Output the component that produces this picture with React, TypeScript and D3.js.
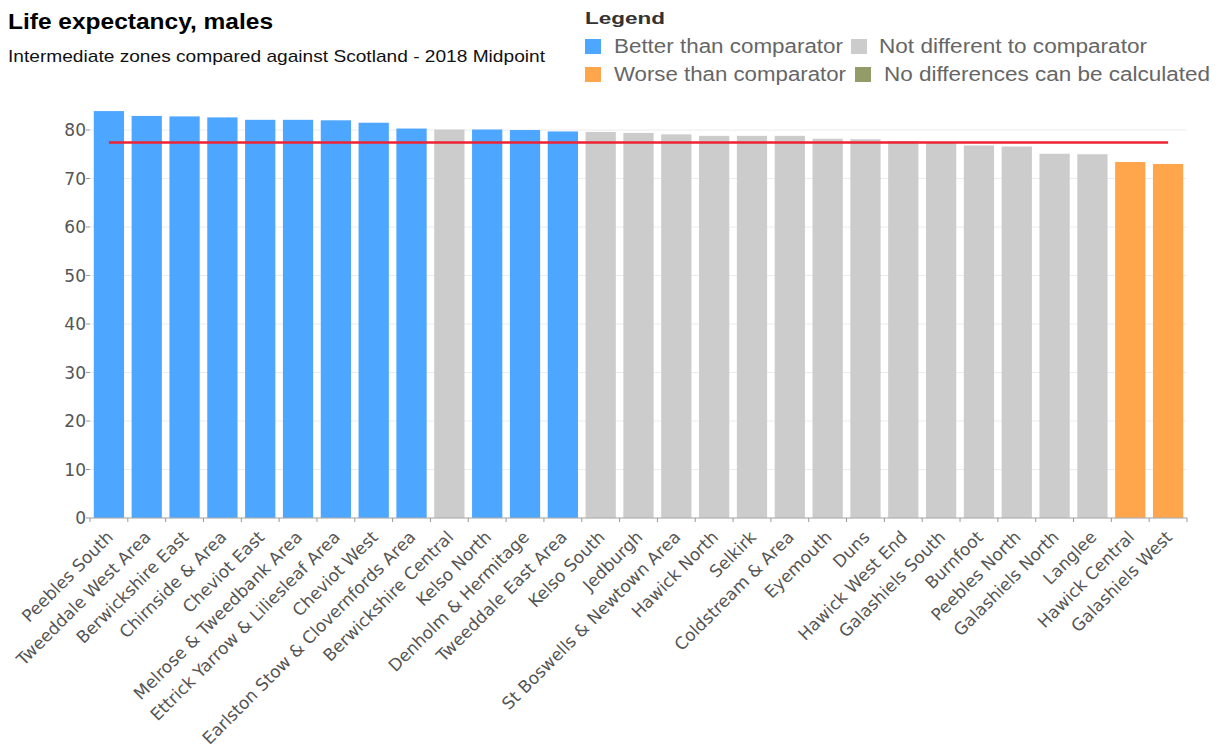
import React from "react";
import * as d3 from "d3";

const categories = [
  "Peebles South", "Tweeddale West Area", "Berwickshire East", "Chirnside & Area",
  "Cheviot East", "Melrose & Tweedbank Area", "Ettrick Yarrow & Liliesleaf Area",
  "Cheviot West", "Earlston Stow & Clovernfords Area", "Berwickshire Central",
  "Kelso North", "Denholm & Hermitage", "Tweeddale East Area", "Kelso South",
  "Jedburgh", "St Boswells & Newtown Area", "Hawick North", "Selkirk",
  "Coldstream & Area", "Eyemouth", "Duns", "Hawick West End", "Galashiels South",
  "Burnfoot", "Peebles North", "Galashiels North", "Langlee", "Hawick Central",
  "Galashiels West",
];
const values = [
  83.9, 82.9, 82.8, 82.6, 82.1, 82.1, 82.0, 81.5, 80.3, 80.1,
  80.1, 80.0, 79.7, 79.6, 79.4, 79.1, 78.8, 78.8, 78.8, 78.2,
  78.1, 77.7, 77.4, 76.8, 76.6, 75.1, 75.0, 73.4, 73.0,
];
const status = [
  "better", "better", "better", "better", "better", "better", "better", "better", "better", "same",
  "better", "better", "better", "same", "same", "same", "same", "same", "same", "same",
  "same", "same", "same", "same", "same", "same", "same", "worse", "worse",
];
const comparator = 77.4;
const yTicks = [0, 10, 20, 30, 40, 50, 60, 70, 80];

const legendItems = [
  { key: "better", label: "Better than comparator", w: 229 },
  { key: "same", label: "Not different to comparator", w: 268 },
  { key: "worse", label: "Worse than comparator", w: 232 },
  { key: "none", label: "No differences can be calculated", w: 326 },
];
const colors: Record<string, string> = {
  better: "#4da6ff",
  same: "#cccccc",
  worse: "#ffa64d",
  none: "#939b69",
};

export default function App() {
  const W = 1223, H = 753;
  const left = 90, right = 1187, bottom = 518;
  const x = d3.scaleBand<string>().domain(categories).range([left, right]).paddingInner(0.2).paddingOuter(0.1);
  const y = d3.scaleLinear().domain([0, 80]).range([bottom, 130]);
  const axisFont = "DejaVu Sans, Verdana, sans-serif";
  const sans = "Liberation Sans, Arial, sans-serif";
  const textColor = "#555";
  const legendSquareX = [585, 851, 585, 855];
  const legendTextX = [614, 879, 614, 884];
  const legendRows = [39, 67];
  return (
    <svg width={W} height={H} style={{ position: "absolute", left: 0, top: 0, background: "#fff" }}>
      <text x={8} y={29} fontFamily={sans} fontWeight="bold" fontSize={22} fill="#000" textLength={265} lengthAdjust="spacingAndGlyphs">Life expectancy, males</text>
      <text x={8} y={62} fontFamily={sans} fontSize={17} fill="#111" textLength={537} lengthAdjust="spacingAndGlyphs">Intermediate zones compared against Scotland - 2018 Midpoint</text>
      <text x={585} y={24} fontFamily={sans} fontWeight="bold" fontSize={17} fill="#333" textLength={80} lengthAdjust="spacingAndGlyphs">Legend</text>
      {legendItems.map((it, i) => {
        const sy = legendRows[Math.floor(i / 2)];
        return (
          <g key={it.key}>
            <rect x={legendSquareX[i]} y={sy} width={16} height={15} fill={colors[it.key]} />
            <text x={legendTextX[i]} y={sy + 14} fontFamily={sans} fontSize={20} fill="#666" textLength={it.w} lengthAdjust="spacingAndGlyphs">{it.label}</text>
          </g>
        );
      })}
      {yTicks.map((t) => (
        <g key={t}>
          <line x1={left} x2={right} y1={y(t)} y2={y(t)} stroke="#ececec" strokeWidth={1} />
          <line x1={left - 4} x2={left} y1={y(t)} y2={y(t)} stroke="#999" />
          <text x={left - 4} y={y(t)} dy="0.36em" textAnchor="end" fontFamily={axisFont} fontSize={17} fill={textColor}>{t}</text>
        </g>
      ))}
      {categories.map((c, i) => (
        <rect key={c} x={x(c)} y={y(values[i])} width={x.bandwidth()} height={bottom - y(values[i])} fill={colors[status[i]]} />
      ))}
      <line x1={left} x2={right} y1={bottom} y2={bottom} stroke="#aaa" />
      {d3.range(categories.length + 1).map((i) => {
        const xx = i === 0 ? left : i === categories.length ? right : (x(categories[i - 1]) as number) + x.bandwidth() + x.step() * 0.1;
        return <line key={i} x1={xx} x2={xx} y1={bottom} y2={bottom + 4} stroke="#999" />;
      })}
      <line x1={(x(categories[0]) as number) + x.bandwidth() / 2} x2={(x(categories[categories.length - 1]) as number) + x.bandwidth() / 2}
        y1={y(comparator)} y2={y(comparator)} stroke="#ee2233" strokeWidth={2.5} />
      {categories.map((c) => {
        const cx = (x(c) as number) + x.bandwidth() / 2 + 1;
        return (
          <text key={c} transform={`translate(${cx},${bottom + 16}) rotate(-45)`} textAnchor="end" dy="0.35em"
            fontFamily={axisFont} fontSize={17} fill={textColor}>{c}</text>
        );
      })}
    </svg>
  );
}
